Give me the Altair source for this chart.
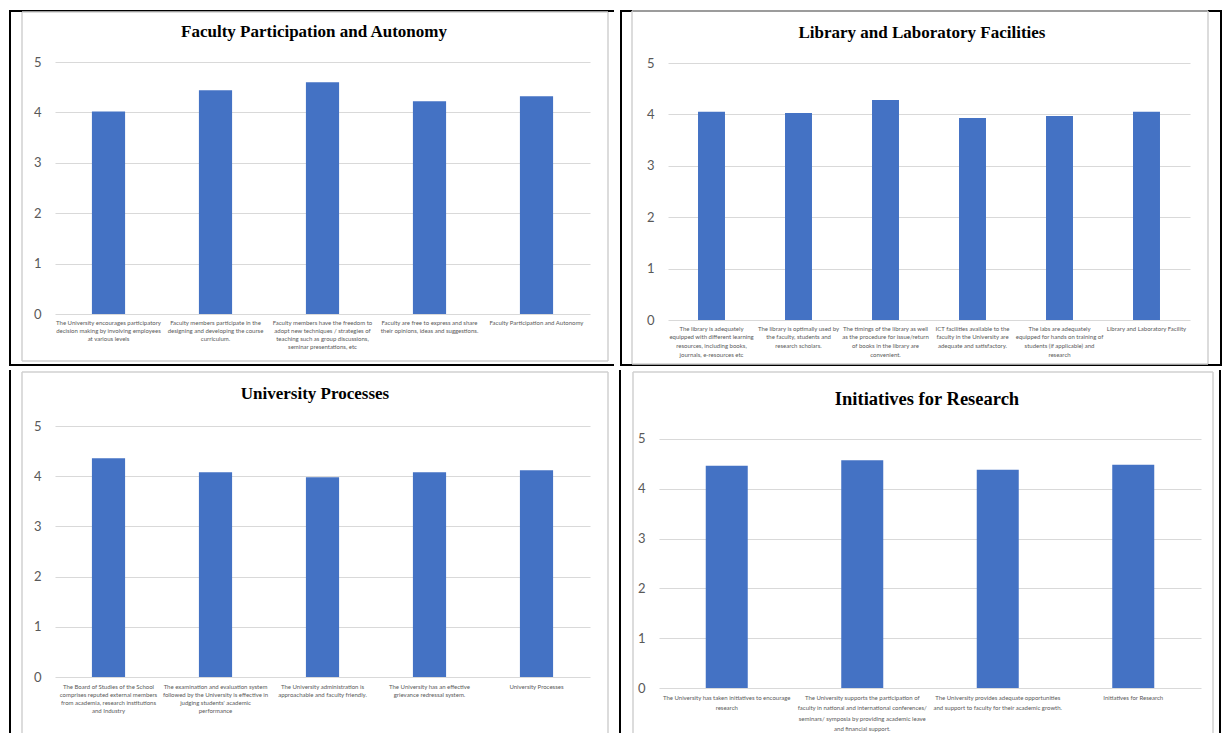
import altair as alt
import pandas as pd

BLUE = "#4472C4"
GRID = "#d9d9d9"
FRAME = "#d0d0d0"
TXT = "#595959"

# ---- Panel 1 ----
title1 = "Faculty Participation and Autonomy"
cats1 = [
    "The University encourages participatory\ndecision making by involving employees\nat various levels",
    "Faculty members participate in the\ndesigning and developing the course\ncurriculum.",
    "Faculty members have the freedom to\nadopt new techniques / strategies of\nteaching such as group discussions,\nseminar presentations, etc",
    "Faculty are free to express and share\ntheir opinions, ideas and suggestions.",
    "Faculty Participation and Autonomy",
]
vals1 = [4.02, 4.44, 4.60, 4.22, 4.32]

# ---- Panel 2 ----
title2 = "Library and Laboratory Facilities"
cats2 = [
    "The library is adequately\nequipped with different learning\nresources, including books,\njournals, e-resources etc",
    "The library is optimally used by\nthe faculty, students and\nresearch scholars.",
    "The timings of the library as well\nas the procedure for issue/return\nof books in the library are\nconvenient.",
    "ICT facilities available to the\nfaculty in the University are\nadequate and satisfactory.",
    "The labs are adequately\nequipped for hands on training of\nstudents (if applicable) and\nresearch",
    "Library and Laboratory Facility",
]
vals2 = [4.05, 4.03, 4.28, 3.93, 3.97, 4.05]

# ---- Panel 3 ----
title3 = "University Processes"
cats3 = [
    "The Board of Studies of the School\ncomprises reputed external members\nfrom academia, research institutions\nand Industry",
    "The examination  and evaluation system\nfollowed  by the University is effective in\njudging students'  academic\nperformance",
    "The University administration is\napproachable and faculty friendly.",
    "The University has an effective\ngrievance redressal system.",
    "University Processes",
]
vals3 = [4.36, 4.08, 3.98, 4.08, 4.12]

# ---- Panel 4 ----
title4 = "Initiatives for Research"
cats4 = [
    "The University has taken initiatives to encourage\nresearch",
    "The University supports the participation of\nfaculty in national and international conferences/\nseminars/ symposia by providing academic leave\nand financial support.",
    "The University provides adequate opportunities\nand support to faculty for their academic growth.",
    "Initiatives for Research",
]
vals4 = [4.46, 4.57, 4.38, 4.48]

y_ticks = [0, 1, 2, 3, 4, 5]


def vrule(one, x, y1, y2, color, sw):
    return alt.Chart(one).mark_rule(color=color, strokeWidth=sw).encode(
        x=alt.value(x), y=alt.value(y1), y2=alt.value(y2))


def hrule(one, x1, x2, y, color, sw):
    return alt.Chart(one).mark_rule(color=color, strokeWidth=sw).encode(
        x=alt.value(x1), x2=alt.value(x2), y=alt.value(y))


def panel(title, cats, vals, W, H, ymax, L, R, T, B, fr, tpos, tsize,
          lsize, lpad, lline, edges, frame_bottom):
    df = pd.DataFrame({"cat": cats, "val": vals})
    one = pd.DataFrame({"k": [0]})
    bars = alt.Chart(df).mark_bar(color=BLUE).encode(
        x=alt.X("cat:N", sort=cats, title="",
                scale=alt.Scale(paddingInner=0.69, paddingOuter=0.345),
                axis=alt.Axis(labelAngle=0, labelExpr="split(datum.value, '\\n')",
                              labelFont="Lato", labelFontSize=lsize,
                              labelLineHeight=lline, labelColor=TXT,
                              labelBaseline="top", labelPadding=lpad,
                              labelLimit=400, ticks=False, domain=False,
                              grid=False)),
        y=alt.Y("val:Q", title="",
                scale=alt.Scale(domain=[0, ymax], nice=False),
                axis=alt.Axis(values=y_ticks, grid=True, gridColor=GRID,
                              gridWidth=1, domain=False, ticks=False,
                              labelFont="Lato", labelFontSize=13,
                              labelColor=TXT, labelPadding=14)),
    )
    layers = [alt.Chart(one).mark_rect(opacity=0).encode(
        x=alt.value(-L), x2=alt.value(W + R), y=alt.value(-T), y2=alt.value(H + B))]
    lx = -L + edges.get("left_inset", 0)
    if edges.get("left"):
        layers.append(vrule(one, lx, -T, H + B, "black", 2))
    if edges.get("right"):
        layers.append(vrule(one, W + R, -T, H + B, "black", 2))
    if edges.get("top"):
        layers.append(hrule(one, lx, W + R, -T + 1, "black", 2))
    if edges.get("bottom"):
        layers.append(hrule(one, lx, W + R, H + B - 1, "black", 2))
    # light grey chart frame
    fb = H + frame_bottom if frame_bottom is not None else H + B
    layers.append(vrule(one, fr[0], fr[2], fb, FRAME, 1.5))
    layers.append(vrule(one, W + fr[1], fr[2], fb, FRAME, 1.5))
    layers.append(hrule(one, fr[0], W + fr[1], fr[2], FRAME, 1.5))
    if frame_bottom is not None:
        layers.append(hrule(one, fr[0], W + fr[1], fb, FRAME, 1.5))
    layers.append(bars)
    ttl = alt.Chart(one).mark_text(font="Liberation Serif", fontWeight="bold",
                                   fontSize=tsize, color="black", align="center",
                                   baseline="middle").encode(
        x=alt.value(tpos[0]), y=alt.value(tpos[1]), text=alt.value(title))
    layers.append(ttl)
    return alt.layer(*layers).properties(width=W, height=H)


p1 = panel(title1, cats1, vals1, W=535, H=252, ymax=5, L=45, R=24, T=52, B=52,
           fr=(-33, 18, -50), tpos=(259, -30), tsize=17,
           lsize=6, lpad=5, lline=8.3,
           edges={"left": True, "top": True, "bottom": True}, frame_bottom=47)
p2 = panel(title2, cats2, vals2, W=522, H=258, ymax=5.02, L=51, R=31, T=52, B=46,
           fr=(-36, 18, -51), tpos=(254, -29), tsize=17,
           lsize=6, lpad=5, lline=8.7,
           edges={"left": True, "left_inset": 4, "top": True, "bottom": True,
                  "right": True}, frame_bottom=44)
p3 = panel(title3, cats3, vals3, W=535, H=251, ymax=5, L=45, R=24, T=56, B=56,
           fr=(-33, 18, -54), tpos=(260, -32), tsize=17,
           lsize=6, lpad=6, lline=8.3,
           edges={"left": True}, frame_bottom=None)
p4 = panel(title4, cats4, vals4, W=542, H=262, ymax=5.26, L=43, R=19, T=56, B=45,
           fr=(-26, 12, -54), tpos=(268, -27), tsize=18.5,
           lsize=6, lpad=6, lline=10.5,
           edges={"left": True, "left_inset": 4, "right": True}, frame_bottom=None)

chart = alt.vconcat(
    alt.hconcat(p1, p2, spacing=0),
    alt.hconcat(p3, p4, spacing=0),
    spacing=0,
).properties(padding=0, background="white").configure_view(stroke="transparent")

chart.save("out.html", embed_options={"renderer": "svg", "actions": False})
